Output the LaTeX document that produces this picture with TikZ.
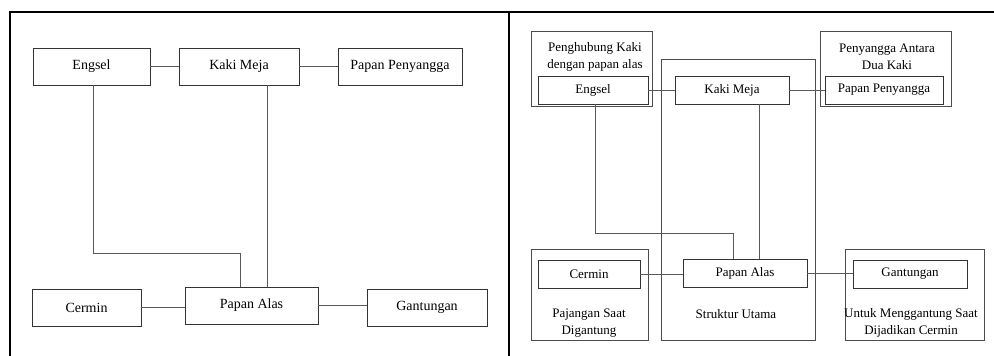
\documentclass[tikz,border=0pt]{standalone}
\usepackage{fontspec}
\setmainfont{Liberation Serif}
\usetikzlibrary{positioning}

\begin{document}
\begin{tikzpicture}[x=1pt, y=-1pt, semithick,
    part/.style={draw=black!80, line width=0.8pt, inner sep=0pt, fill=white},
    group/.style={draw=black!70, line width=0.8pt},
    note/.style={align=center, inner sep=0pt},
    link/.style={draw=black!65, line width=0.8pt}]

  \tikzstyle{every node}=[font=\fontsize{13}{17}\selectfont, text=black]

  \useasboundingbox (0,0) rectangle (994,356);

  % table borders
  \draw[line width=2pt] (9,12) -- (994,12);
  \draw[line width=2pt] (10,12) -- (10,356);
  \draw[line width=2pt] (509,12) -- (509,356);

  % left panel
  \begin{scope}[every node/.append style={font=\fontsize{14}{17}\selectfont}]
    \node[part, minimum width=117pt, minimum height=37pt] (lEngsel) at (91.5,66.5) {Engsel};
    \node[part, minimum width=120pt, minimum height=37pt] (lKaki) at (239,66.5) {Kaki Meja};
    \node[part, minimum width=124pt, minimum height=37pt] (lPeny) at (400,66.5) {Papan Penyangga};
    \node[part, minimum width=109pt, minimum height=37pt] (lCermin) at (86.5,307.5) {Cermin};
    \node[part, minimum width=133pt, minimum height=37pt] (lAlas) at (251.5,305.5) {Papan Alas};
    \node[part, minimum width=120pt, minimum height=37pt] (lGant) at (427,307.5) {Gantungan};
  \end{scope}
  \coordinate (lBend) at (240,253);

  \draw[link] (lEngsel.east) -- (lKaki.west);
  \draw[link] (lKaki.east) -- (lPeny.west);
  \draw[link] ([xshift=1.5pt]lEngsel.south) |- (lBend) -- (lBend |- lAlas.north);
  \draw[link] ([xshift=28pt]lKaki.south) -- ([xshift=28pt]lKaki.south |- lAlas.north);
  \draw[link] (lCermin.east) -- (lCermin.east -| lAlas.west);
  \draw[link] (lAlas.east) -- (lAlas.east -| lGant.west);

  % right panel: groups
  \draw[group] (531,31) rectangle (652,106);
  \draw[group] (661,59) rectangle (815,340);
  \draw[group] (820,31) rectangle (951,106);
  \draw[group] (531,249) rectangle (648,340);
  \draw[group] (845,249) rectangle (984,340);

  \node[note] (hubText) at (595,57) {Penghubung Kaki\\dengan papan alas};
  \node[note] (penyText) at (887,57) {Penyangga Antara\\Dua Kaki};
  \node[note] (pajText) at (589,323) {Pajangan Saat\\Digantung};
  \node[note] (strukText) at (736,314) {Struktur Utama};
  \node[note] (untukText) at (911,323) {Untuk Menggantung Saat\\Dijadikan Cermin};

  % right panel: parts
  \node[part, minimum width=110pt, minimum height=28pt] (rEngsel) at (593,90) {Engsel};
  \node[part, minimum width=114pt, minimum height=28pt] (rKaki) at (732,90) {Kaki Meja};
  \node[part, minimum width=118pt, minimum height=28pt] (rPeny) at (884,90) {Papan Penyangga};
  \node[part, minimum width=102pt, minimum height=28pt] (rCermin) at (589,274) {Cermin};
  \node[part, minimum width=124pt, minimum height=28pt] (rAlas) at (745,273) {Papan Alas};
  \node[part, minimum width=114pt, minimum height=28pt] (rGant) at (910,274) {Gantungan};
  \coordinate (rBend) at (733,233);

  \draw[link] (rEngsel.east) -- (rKaki.west);
  \draw[link] (rKaki.east) -- (rPeny.west);
  \draw[link] ([xshift=2pt]rEngsel.south) |- (rBend) -- (rBend |- rAlas.north);
  \draw[link] ([xshift=27pt]rKaki.south) -- ([xshift=27pt]rKaki.south |- rAlas.north);
  \draw[link] (rCermin.east) -- (rCermin.east -| rAlas.west);
  \draw[link] (rAlas.east) -- (rAlas.east -| rGant.west);

\end{tikzpicture}
\end{document}
